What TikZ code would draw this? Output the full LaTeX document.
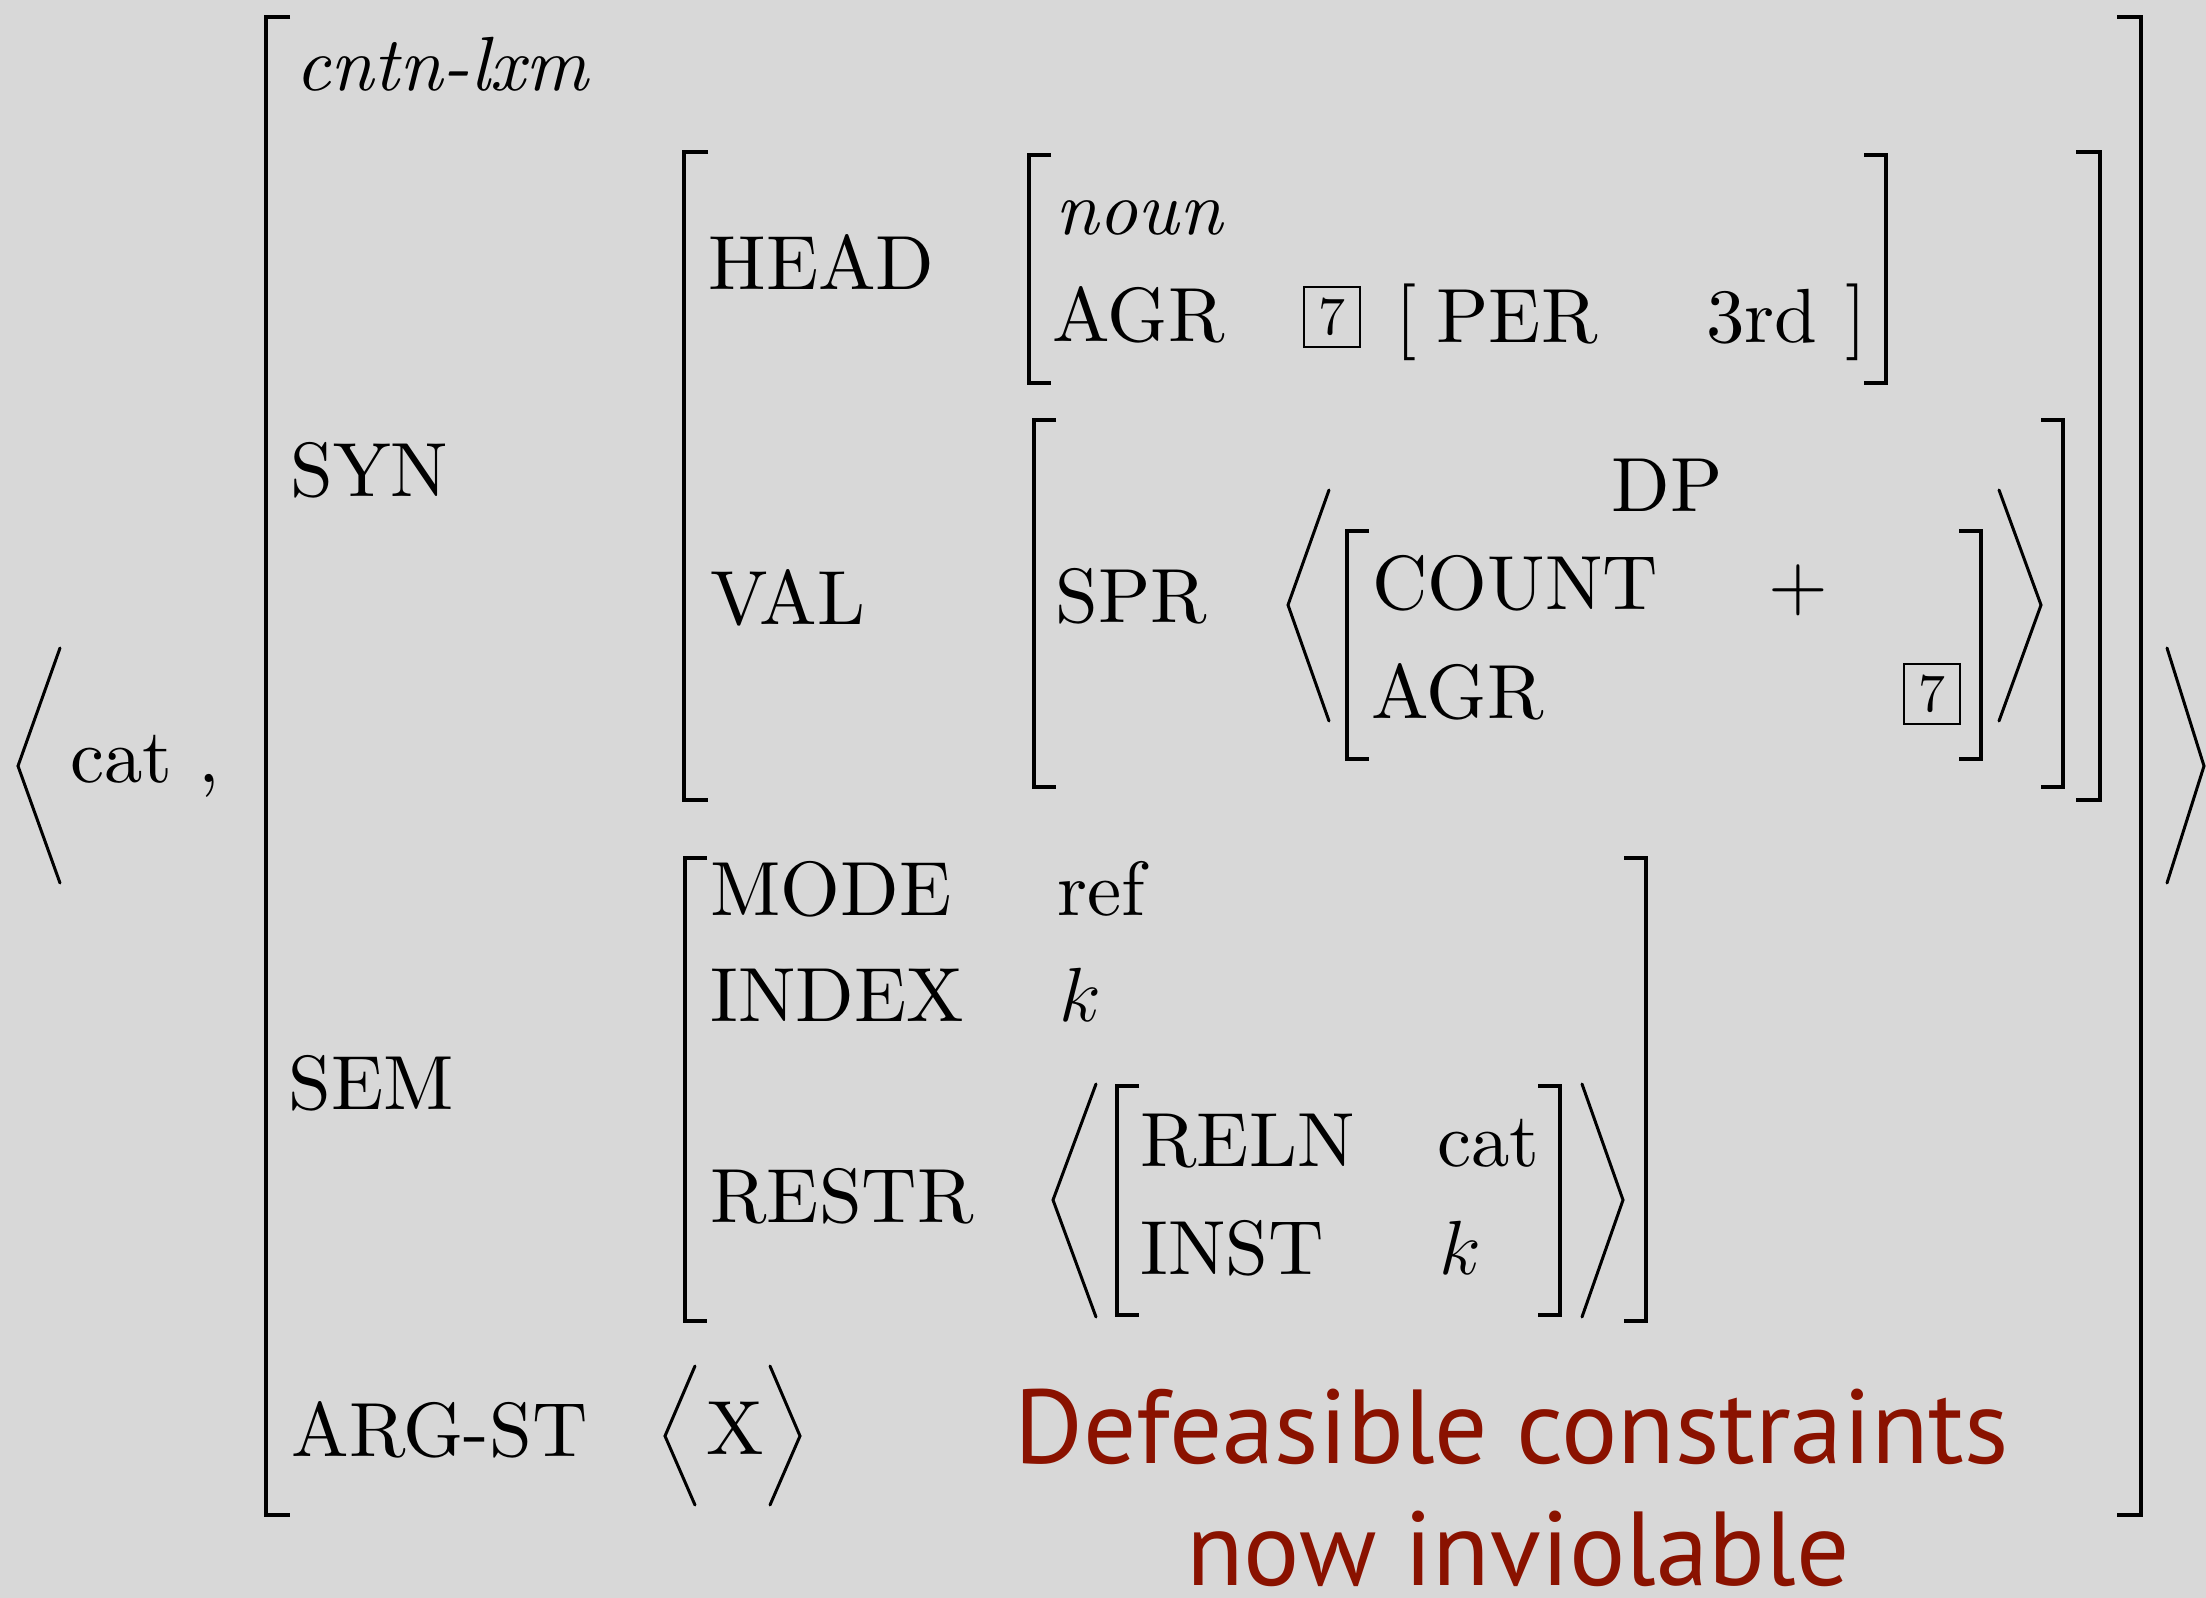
\RequirePackage{fix-cm}
\documentclass[tikz,border=0pt]{standalone}
\usepackage{fontspec}
\usepackage{xcolor}
\usepackage{tikz}
\setmainfont{lmroman10}[Extension=.otf, UprightFont=*-regular, ItalicFont=*-italic, BoldFont=*-bold]
\newfontfamily\gillfont{PT Sans}
\definecolor{slidegray}{HTML}{D8D8D8}
\definecolor{notered}{HTML}{8A1200}
\tikzset{
    feat/.style={anchor=base west, inner sep=0pt, font=\fontsize{38.4}{46}\selectfont},
    tagbox/.style={draw, line width=1pt, inner sep=0pt, minimum width=28pt, minimum height=30pt, font=\fontsize{27}{30}\selectfont},
    brk/.style={line width=2.4pt},
    angl/.style={line width=1.5pt, line cap=round},
    note/.style={anchor=base west, inner sep=0pt, text=notered, font=\gillfont\fontsize{52.6}{64}\selectfont}
}

\begin{document}
\begin{tikzpicture}[x=0.5pt, y=-0.5pt]
    \fill[slidegray] (0,0) rectangle (2206,1598);
    \useasboundingbox (0,0) rectangle (2206,1598);
    % outer pair
    \draw[angl] (60,648) -- (18,766) -- (60,883);
    \draw[angl] (2167,648) -- (2204,766) -- (2167,883);
    \node[feat] (word) at (70,783) {cat ,};
    \draw[brk] (290,17) -| (266,1515) -- (290,1515); % outer bracket
    \draw[brk] (2117,17) -| (2141,1515) -- (2117,1515);
    \node[feat] (type) at (295,91) {\textit{cntn-lxm}};
    % SYN
    \node[feat] (syn) at (290,497) {SYN};
    \draw[brk] (708,152) -| (684,800) -- (708,800);
    \draw[brk] (2076,152) -| (2100,800) -- (2076,800);
    \node[feat] (head) at (708,290) {HEAD};
    \draw[brk] (1051,155) -| (1029,383) -- (1051,383);
    \draw[brk] (1864,155) -| (1886,383) -- (1864,383);
    \node[feat] (noun) at (1055,235) {\textit{noun}};
    \node[feat] (agr) at (1052,342) {AGR};
    \node[tagbox] (tagA) at (1332,317) {7};
    \node[feat] (perl) at (1395,342) {[};
    \node[feat] (per) at (1436,343) {PER};
    \node[feat] (third) at (1706,343) {3rd};
    \node[feat] (perr) at (1845,342) {]};
    \node[feat] (val) at (710,625) {VAL};
    \draw[brk] (1056,420) -| (1034,787) -- (1056,787);
    \draw[brk] (2041,420) -| (2063,787) -- (2041,787);
    \node[feat] (spr) at (1055,623) {SPR};
    \draw[angl] (1329,490) -- (1288,605) -- (1329,721);
    \draw[angl] (1999,490) -- (2041,605) -- (1999,721);
    \draw[brk] (1369,531) -| (1347,759) -- (1369,759);
    \draw[brk] (1959,531) -| (1981,759) -- (1959,759);
    \node[feat] (dp) at (1611,512) {DP};
    \node[feat] (count) at (1372,610) {COUNT};
    \node[feat] (plus) at (1768,610) {+};
    \node[feat] (agrb) at (1371,719) {AGR};
    \node[tagbox] (tagB) at (1932,694) {7};
    % SEM
    \node[feat] (sem) at (288,1109) {SEM};
    \draw[brk] (707,858) -| (685,1321) -- (707,1321);
    \draw[brk] (1624,858) -| (1646,1321) -- (1624,1321);
    \node[feat] (mode) at (710,915) {MODE};
    \node[feat] (ref) at (1057,915) {ref};
    \node[feat] (index) at (710,1021) {INDEX};
    \node[feat] (idx) at (1059,1021) {$k$};
    \node[feat] (restr) at (710,1222) {RESTR};
    \draw[angl] (1096,1084) -- (1053,1200) -- (1096,1317);
    \draw[angl] (1582,1084) -- (1623,1200) -- (1582,1317);
    \draw[brk] (1139,1086) -| (1117,1315) -- (1139,1315);
    \draw[brk] (1538,1086) -| (1560,1315) -- (1538,1315);
    \node[feat] (reln) at (1140,1166) {RELN};
    \node[feat] (relv) at (1437,1166) {cat};
    \node[feat] (inst) at (1140,1274) {INST};
    \node[feat] (instv) at (1439,1274) {$k$};
    % ARG-ST
    \node[feat] (argst) at (291,1456) {ARG-ST};
    \draw[angl] (695,1366) -- (665,1436) -- (695,1505);
    \draw[angl] (770,1366) -- (800,1436) -- (770,1505);
    \node[feat] (x) at (706,1454) {X};
    \node[note] (noteA) at (1014,1463) {Defeasible constraints};
    \node[note] (noteB) at (1186,1585) {now inviolable};
\end{tikzpicture}
\end{document}
